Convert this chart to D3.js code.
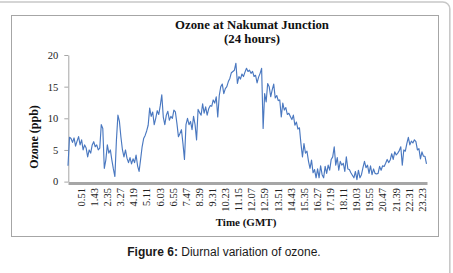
<!DOCTYPE html>
<html>
<head>
<meta charset="utf-8">
<script src="https://cdn.jsdelivr.net/npm/d3@7"></script>
<style>
  html, body { margin: 0; padding: 0; background: #fff; }
  svg { display: block; }
</style>
</head>
<body>
<div id="chart"></div>
<script>
// ---- data ----
const STEP_MIN = 6;          // one reading every 6 minutes, starting 0:00
const AXIS_END_MIN = 1424;

const ozonePpb = [
  2.5, 7.0, 6.8, 6.2, 6.9, 5.6, 6.4, 7.1, 5.8, 6.6, 5.0, 5.8, 5.3, 3.9, 5.0, 4.5, 5.8, 6.3, 5.5, 5.8,
  5.0, 5.3, 9.0, 8.4, 2.1, 3.4, 5.8, 4.5, 5.0, 3.4, 2.0, 0.8, 6.5, 10.5, 9.5, 7.0, 5.0, 3.9, 5.0, 3.7,
  3.0, 3.8, 2.8, 3.6, 3.0, 4.2, 2.5, 1.6, 3.5, 5.5, 6.8, 7.3, 8.0, 8.9, 11.6, 10.3, 11.0, 9.0, 10.0, 11.2,
  10.6, 12.0, 13.7, 10.2, 9.0, 10.5, 11.1, 9.7, 10.3, 10.0, 11.3, 11.0, 9.2, 7.1, 7.6, 8.2, 6.0, 3.5, 9.0, 10.0,
  9.0, 9.5, 8.2, 10.3, 9.0, 6.6, 11.4, 10.9, 10.5, 12.3, 10.8, 11.8, 10.5, 11.5, 12.0, 11.9, 12.9, 12.4, 13.4, 10.2,
  13.6, 15.0, 15.4, 13.9, 14.7, 15.0, 15.8, 16.3, 17.2, 17.4, 17.6, 18.7, 15.5, 16.6, 16.2, 17.0, 16.6, 17.3, 17.9,
  17.4, 17.6, 17.1, 17.4, 16.6, 16.8, 15.6, 16.5, 17.1, 17.9, 8.4, 13.9, 12.6, 15.5, 15.0, 13.4, 14.5, 15.4, 13.2, 13.6,
  12.8, 12.9, 10.2, 12.4, 11.3, 11.7, 10.6, 10.8, 10.3, 9.8, 10.5, 8.9, 9.4, 8.3, 8.5, 6.0, 3.9, 6.0, 4.5, 4.8,
  3.2, 2.1, 3.4, 1.4, 1.9, 0.6, 2.0, 0.6, 2.5, 1.1, 0.6, 2.4, 1.3, 2.6, 1.8, 3.5, 3.9, 5.5, 2.6, 3.8,
  1.8, 3.2, 2.6, 2.9, 1.6, 3.9, 2.0, 1.9, 1.4, 1.0, 0.6, 1.6, 0.3, 1.8, 0.6, 1.1, 2.2, 3.2, 2.2,
  2.6, 1.3, 2.5, 1.1, 2.0, 1.3, 1.2, 1.3, 2.4, 1.8, 2.5, 2.4, 2.9, 3.5, 3.0, 3.4, 4.4, 3.5, 4.7, 4.2,
  4.5, 4.9, 5.5, 2.6, 5.0, 4.8, 6.0, 7.0, 5.8, 6.4, 6.1, 6.6, 6.3, 5.0, 5.2, 3.6, 4.7, 4.0, 4.0, 2.8
];

const xTickLabels = [
  "0.51", "1.43", "2.35", "3.27", "4.19", "5.11", "6.03", "6.55", "7.47", "8.39",
  "9.31", "10.23", "11.15", "12.07", "12.59", "13.51", "14.43", "15.35", "16.27", "17.19",
  "18.11", "19.03", "19.55", "20.47", "21.39", "22.31", "23.23"
];
const yTicks = [0, 5, 10, 15, 20];

const titleLines = ["Ozone at Nakumat Junction", "(24 hours)"];
const yTitle = "Ozone (ppb)";
const xTitle = "Time (GMT)";

// ---- layout ----
const W = 453, H = 273;
const plot = { left: 68, right: 427, top: 55, bottom: 181.6 };
const SERIF = "'Liberation Serif', 'Times New Roman', serif";
const SANS = "'Liberation Sans', Arial, sans-serif";
const AXIS_GREY = "#a6a6a6";
const LINE_BLUE = "#4a78c0";

const svg = d3.select("#chart").append("svg")
  .attr("width", W)
  .attr("height", H);

svg.append("rect").attr("width", W).attr("height", H).attr("fill", "#fff");

// outer page frame (rounded, only top/right visible)
svg.append("rect")
  .attr("x", -10).attr("y", 2)
  .attr("width", 459.8).attr("height", 300)
  .attr("rx", 7)
  .attr("fill", "none")
  .attr("stroke", "#c8c8c8")
  .attr("stroke-width", 1.6);

// chart box
svg.append("rect")
  .attr("x", 11.5).attr("y", 15.5)
  .attr("width", 427).attr("height", 221)
  .attr("fill", "#fff")
  .attr("stroke", AXIS_GREY)
  .attr("stroke-width", 1);

// ---- scales ----
const data = ozonePpb.map((v, i) => ({ t: i * STEP_MIN, v }));

const x = d3.scaleLinear()
  .domain([0, AXIS_END_MIN])
  .range([plot.left, plot.right]);

const y = d3.scaleLinear()
  .domain([0, 20])
  .range([plot.bottom, plot.top]);

const labelToMin = s => {
  const [h, m] = s.split(".");
  return +h * 60 + +m;
};

// ---- y axis ----
const yAxis = d3.axisLeft(y)
  .tickValues(yTicks)
  .tickSize(4)
  .tickPadding(6)
  .tickSizeOuter(0);

const gy = svg.append("g")
  .attr("transform", `translate(${plot.left + 0.3},0)`)
  .call(yAxis);
gy.select(".domain").attr("stroke", AXIS_GREY);
gy.selectAll(".tick line").attr("stroke", AXIS_GREY);
gy.selectAll(".tick text")
  .attr("font-family", SERIF)
  .attr("font-size", 10.5)
  .attr("fill", "#222");

// ---- x axis ----
const xAxis = d3.axisBottom(x)
  .tickValues(xTickLabels.map(labelToMin))
  .tickFormat((d, i) => xTickLabels[i])
  .tickSize(0)
  .tickSizeOuter(0);

const gx = svg.append("g")
  .attr("transform", `translate(0,${plot.bottom + 1.5})`)
  .call(xAxis);
gx.select(".domain")
  .attr("stroke", AXIS_GREY)
  .attr("stroke-width", 3);
gx.selectAll(".tick text")
  .attr("font-family", SERIF)
  .attr("font-size", 10.5)
  .attr("fill", "#222")
  .attr("text-anchor", "end")
  .attr("transform", "rotate(-90)")
  .attr("x", -5)
  .attr("y", 0)
  .attr("dy", "0.34em");

// ---- line ----
const line = d3.line()
  .x(d => x(d.t))
  .y(d => y(d.v));

svg.append("path")
  .datum(data)
  .attr("fill", "none")
  .attr("stroke", LINE_BLUE)
  .attr("stroke-width", 1.15)
  .attr("stroke-linejoin", "round")
  .attr("d", line);

// ---- titles ----
[28.5, 43].forEach((ty, i) => {
  svg.append("text")
    .attr("x", 252).attr("y", ty)
    .attr("text-anchor", "middle")
    .attr("font-family", SERIF)
    .attr("font-weight", "bold")
    .attr("font-size", 12.8)
    .attr("fill", "#111")
    .text(titleLines[i]);
});

svg.append("text")
  .attr("transform", "translate(38,137) rotate(-90)")
  .attr("text-anchor", "middle")
  .attr("font-family", SERIF)
  .attr("font-weight", "bold")
  .attr("font-size", 12)
  .attr("fill", "#111")
  .text(yTitle);

svg.append("text")
  .attr("x", 246).attr("y", 226)
  .attr("text-anchor", "middle")
  .attr("font-family", SERIF)
  .attr("font-weight", "bold")
  .attr("font-size", 11)
  .attr("fill", "#111")
  .text(xTitle);

// ---- caption ----
const cap = svg.append("text")
  .attr("x", 224).attr("y", 256)
  .attr("text-anchor", "middle")
  .attr("font-family", SANS)
  .attr("font-size", 12)
  .attr("fill", "#1a1a1a");
cap.append("tspan").attr("font-weight", "bold").text("Figure 6:");
cap.append("tspan").text(" Diurnal variation of ozone.");
</script>
</body>
</html>
